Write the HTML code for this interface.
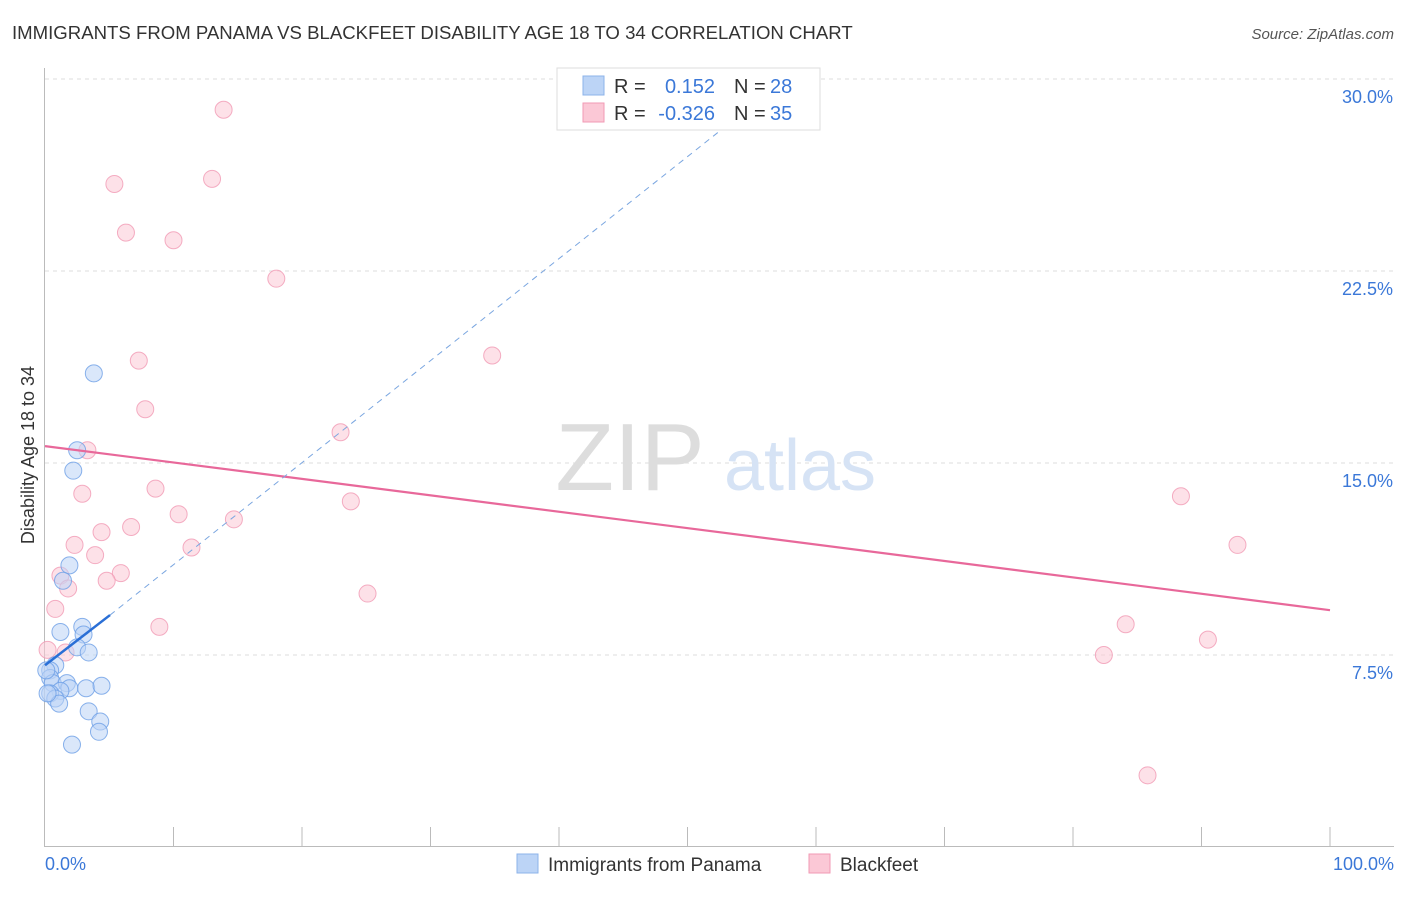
<!DOCTYPE html>
<html><head><meta charset="utf-8"><style>
body{margin:0;background:#fff;font-family:"Liberation Sans",sans-serif;}
svg text{font-family:"Liberation Sans",sans-serif;}
</style></head><body>
<svg id="chart" width="1406" height="892" viewBox="0 0 1406 892">
<text x="12" y="39" font-size="18.6" fill="#333">IMMIGRANTS FROM PANAMA VS BLACKFEET DISABILITY AGE 18 TO 34 CORRELATION CHART</text>
<text x="1394" y="39" font-size="15" fill="#555" text-anchor="end" font-style="italic">Source: ZipAtlas.com</text>
<g id="grid"></g>
<text x="630" y="490" font-size="96" fill="#ddd" font-family="Liberation Serif" text-anchor="middle">ZIP</text>
<text x="800" y="490" font-size="72" fill="#d6e3f5" text-anchor="middle">atlas</text>
<g id="axes"></g>
<g id="marks"></g>
<text transform="translate(34,455) rotate(-90)" font-size="18" fill="#333" text-anchor="middle">Disability Age 18 to 34</text>
<text x="45" y="870" font-size="18" fill="#3b78d8">0.0%</text>
<text x="1394" y="870" font-size="18" fill="#3b78d8" text-anchor="end">100.0%</text>
<g>
<rect x="557" y="68" width="263" height="62" fill="#fff" stroke="#ddd"/>
<rect x="583" y="76" width="21" height="19" fill="#bcd4f6" stroke="#8cb3ea"/>
<rect x="583" y="103" width="21" height="19" fill="#fbc8d6" stroke="#f19ab4"/>
<text x="614" y="93" font-size="20" fill="#333">R =</text>
<text x="715" y="93" font-size="20" fill="#3b78d8" text-anchor="end">0.152</text>
<text x="734" y="93" font-size="20" fill="#333">N =</text>
<text x="770" y="93" font-size="20" fill="#3b78d8">28</text>
<text x="614" y="120" font-size="20" fill="#333">R =</text>
<text x="715" y="120" font-size="20" fill="#3b78d8" text-anchor="end">-0.326</text>
<text x="734" y="120" font-size="20" fill="#333">N =</text>
<text x="770" y="120" font-size="20" fill="#3b78d8">35</text>
</g>
<g>
<rect x="517" y="854" width="21" height="19" fill="#bcd4f6" stroke="#8cb3ea"/>
<text x="548" y="871" font-size="19" fill="#333">Immigrants from Panama</text>
<rect x="809" y="854" width="21" height="19" fill="#fbc8d6" stroke="#f19ab4"/>
<text x="840" y="871" font-size="19" fill="#333">Blackfeet</text>
</g>
</svg>
<script>
const yTicks=[7.5,15.0,22.5,30.0];
const xTickCount=10;
const panamaX=[3.8,2.5,2.2,1.9,1.4,2.9,1.2,3.0,2.5,3.4,0.8,0.4,0.4,0.6,1.7,1.9,1.2,3.2,4.4,0.4,0.8,1.1,3.4,4.3,4.2,2.1,0.1,0.2];
const panamaY=[18.5,15.5,14.7,11.0,10.4,8.6,8.4,8.3,7.8,7.6,7.1,6.9,6.6,6.4,6.4,6.2,6.1,6.2,6.3,6.0,5.8,5.6,5.3,4.9,4.5,4.0,6.9,6.0];
const blackX=[13.9,5.4,13.0,6.3,10.0,18.0,34.8,7.3,7.8,23.0,3.3,2.9,8.6,23.8,10.4,14.7,6.7,4.4,2.3,11.4,3.9,5.9,4.8,1.2,1.8,0.8,25.1,8.9,1.6,0.2,88.4,92.8,84.1,90.5,82.4];
const blackY=[28.8,25.9,26.1,24.0,23.7,22.2,19.2,19.0,17.1,16.2,15.5,13.8,14.0,13.5,13.0,12.8,12.5,12.3,11.8,11.7,11.4,10.7,10.4,10.6,10.1,9.3,9.9,8.6,7.6,7.7,13.7,11.8,8.7,8.1,7.5];
const blackExtraX=[85.8];const blackExtraY=[2.8];
const panamaTrendX=[0,5.06,55.6];const panamaTrendY=[7.1,9.06,29.2];
const blackTrendX=[0,100];const blackTrendY=[15.66,9.25];
const NS="http://www.w3.org/2000/svg";
const X=v=>45+v/100*1285, Y=v=>847-v/30*768;
function mk(t,a,p){const e=document.createElementNS(NS,t);for(const k in a)e.setAttribute(k,a[k]);p.appendChild(e);return e;}
const grid=document.getElementById('grid'),axes=document.getElementById('axes'),marks=document.getElementById('marks');
yTicks.forEach(t=>{
 const l=mk('line',{x1:45,x2:1394,y1:Y(t),y2:Y(t),stroke:'#ddd','stroke-dasharray':'4,4'},grid);
 
 
 const tx=mk('text',{x:1393,y:Y(t)+24,'font-size':18,fill:'#3b78d8','text-anchor':'end'},axes);
 tx.textContent=t.toFixed(1)+'%';
 
 
});
const ya=mk('line',{x1:44.5,x2:44.5,y1:68,y2:847,stroke:'#bbb'},axes);


const xa=mk('line',{x1:45,x2:1394,y1:846.5,y2:846.5,stroke:'#bbb'},axes);


for(let i=1;i<=xTickCount;i++){const t=mk('line',{x1:X(i*10),x2:X(i*10),y1:827,y2:847,stroke:'#bbb'},axes);
 
 }
function dots(xs,ys,fill,stroke,name){xs.forEach((x,i)=>{const c=mk('circle',{cx:X(x),cy:Y(ys[i]),r:8.5,fill:fill,'fill-opacity':0.55,stroke:stroke,'stroke-opacity':0.8,'stroke-width':1},marks);
 
 });}
dots(blackX.concat(blackExtraX),blackY.concat(blackExtraY),'#fbc8d6','#f19ab4','blackfeet-point');
dots(panamaX,panamaY,'#bcd4f6','#6d9fe6','panama-point');
const bt=mk('line',{x1:X(blackTrendX[0]),y1:Y(blackTrendY[0]),x2:X(blackTrendX[1]),y2:Y(blackTrendY[1]),stroke:'#e8689a','stroke-width':2.2},marks);


const pd=mk('line',{x1:X(panamaTrendX[1]),y1:Y(panamaTrendY[1]),x2:X(panamaTrendX[2]),y2:Y(panamaTrendY[2]),stroke:'#7aa6e0','stroke-width':1,'stroke-dasharray':'6,5'},marks);


const ps=mk('line',{x1:X(panamaTrendX[0]),y1:Y(panamaTrendY[0]),x2:X(panamaTrendX[1]),y2:Y(panamaTrendY[1]),stroke:'#2a6fd6','stroke-width':2.5},marks);


</script>
</body></html>
